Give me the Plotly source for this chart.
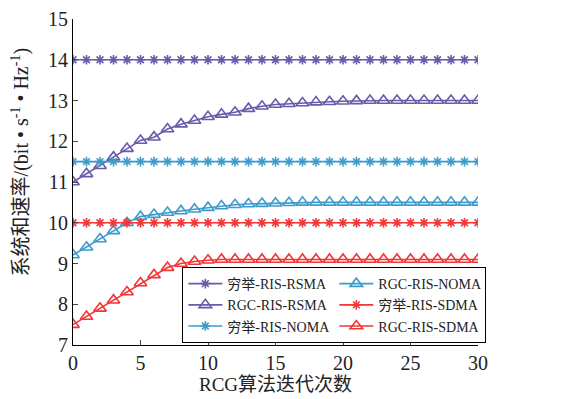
import plotly.graph_objects as go

iterations = list(range(31))

exh_rsma = [14.0, 14.0, 14.0, 14.0, 14.0, 14.0, 14.0, 14.0, 14.0, 14.0, 14.0,
            14.0, 14.0, 14.0, 14.0, 14.0, 14.0, 14.0, 14.0, 14.0, 14.0,
            14.0, 14.0, 14.0, 14.0, 14.0, 14.0, 14.0, 14.0, 14.0, 14.0]
rgc_rsma = [11.0, 11.2, 11.4, 11.61, 11.82, 12.02, 12.1, 12.3, 12.42, 12.51, 12.6,
            12.66, 12.71, 12.8, 12.86, 12.9, 12.92, 12.94, 12.96, 12.97, 12.98,
            12.99, 13.0, 13.0, 13.0, 13.0, 13.0, 13.0, 13.0, 13.0, 13.0]
exh_noma = [11.5, 11.5, 11.5, 11.5, 11.5, 11.5, 11.5, 11.5, 11.5, 11.5, 11.5,
            11.5, 11.5, 11.5, 11.5, 11.5, 11.5, 11.5, 11.5, 11.5, 11.5,
            11.5, 11.5, 11.5, 11.5, 11.5, 11.5, 11.5, 11.5, 11.5, 11.5]
rgc_noma = [9.21, 9.4, 9.6, 9.8, 10.0, 10.15, 10.2, 10.25, 10.29, 10.33, 10.37,
            10.41, 10.44, 10.46, 10.47, 10.48, 10.49, 10.5, 10.5, 10.5, 10.5,
            10.5, 10.5, 10.5, 10.5, 10.5, 10.5, 10.5, 10.5, 10.5, 10.5]
exh_sdma = [10.0, 10.0, 10.0, 10.0, 10.0, 10.0, 10.0, 10.0, 10.0, 10.0, 10.0,
            10.0, 10.0, 10.0, 10.0, 10.0, 10.0, 10.0, 10.0, 10.0, 10.0,
            10.0, 10.0, 10.0, 10.0, 10.0, 10.0, 10.0, 10.0, 10.0, 10.0]
rgc_sdma = [7.5, 7.7, 7.9, 8.1, 8.3, 8.52, 8.72, 8.9, 9.0, 9.05, 9.08,
            9.1, 9.1, 9.1, 9.1, 9.1, 9.1, 9.1, 9.1, 9.1, 9.1,
            9.1, 9.1, 9.1, 9.1, 9.1, 9.1, 9.1, 9.1, 9.1, 9.1]

x_ticks = [0, 5, 10, 15, 20, 25, 30]
y_ticks = [7, 8, 9, 10, 11, 12, 13, 14, 15]

x_title = "RCG算法迭代次数"
y_title = "系统和速率/(bit • s<sup>-1</sup> • Hz<sup>-1</sup>)"

PURPLE = "#6a5aaa"
BLUE = "#3d9bcc"
RED = "#f23535"
FONT = "Liberation Serif, Times New Roman, Noto Sans CJK SC, serif"

series = [
    ("穷举-RIS-RSMA", exh_rsma, PURPLE, "asterisk-open", 8, 1),
    ("RGC-RIS-RSMA", rgc_rsma, PURPLE, "triangle-up-open", 11, 3),
    ("穷举-RIS-NOMA", exh_noma, BLUE, "asterisk-open", 8, 5),
    ("RGC-RIS-NOMA", rgc_noma, BLUE, "triangle-up-open", 11, 2),
    ("穷举-RIS-SDMA", exh_sdma, RED, "asterisk-open", 8, 4),
    ("RGC-RIS-SDMA", rgc_sdma, RED, "triangle-up-open", 11, 6),
]

fig = go.Figure()
for name, ys, color, sym, size, rank in series:
    fig.add_trace(go.Scatter(
        x=iterations, y=ys, name=name, mode="lines+markers",
        line=dict(color=color, width=1.6),
        marker=dict(symbol=sym, size=size, color=color,
                    line=dict(color=color, width=1.6)),
        legendrank=rank,
    ))

fig.add_annotation(
    text=y_title, textangle=-90, xref="paper", yref="paper",
    x=-0.131, y=0.56, xanchor="center", yanchor="middle", showarrow=False,
    font=dict(family=FONT, size=20, color="#222"),
)

fig.update_layout(
    width=576, height=391,
    margin=dict(l=65, r=106, t=11, b=54),
    paper_bgcolor="white", plot_bgcolor="white",
    font=dict(family=FONT, size=18, color="#222"),
    showlegend=True,
    legend=dict(
        orientation="h", x=0.27, y=0.006, xanchor="left", yanchor="bottom",
        bgcolor="white", bordercolor="black", borderwidth=1,
        font=dict(family=FONT, size=14, color="#222"),
        entrywidth=102, tracegroupgap=0, itemwidth=34,
        traceorder="normal",
    ),
    xaxis=dict(
        range=[0, 30], tickvals=x_ticks, ticks="inside", ticklen=5,
        showline=True, linecolor="black", linewidth=1, showgrid=False,
        zeroline=False, tickfont=dict(size=20), automargin=False,
        ticklabeloverflow="allow",
        title=dict(text=x_title, font=dict(size=19), standoff=2),
    ),
    yaxis=dict(
        range=[7, 15], tickvals=y_ticks, ticks="inside", ticklen=5,
        showline=True, linecolor="black", linewidth=1, showgrid=False,
        zeroline=False, tickfont=dict(size=20), automargin=False,
        ticklabeloverflow="allow",
    ),
)

fig.write_html("out.html")
